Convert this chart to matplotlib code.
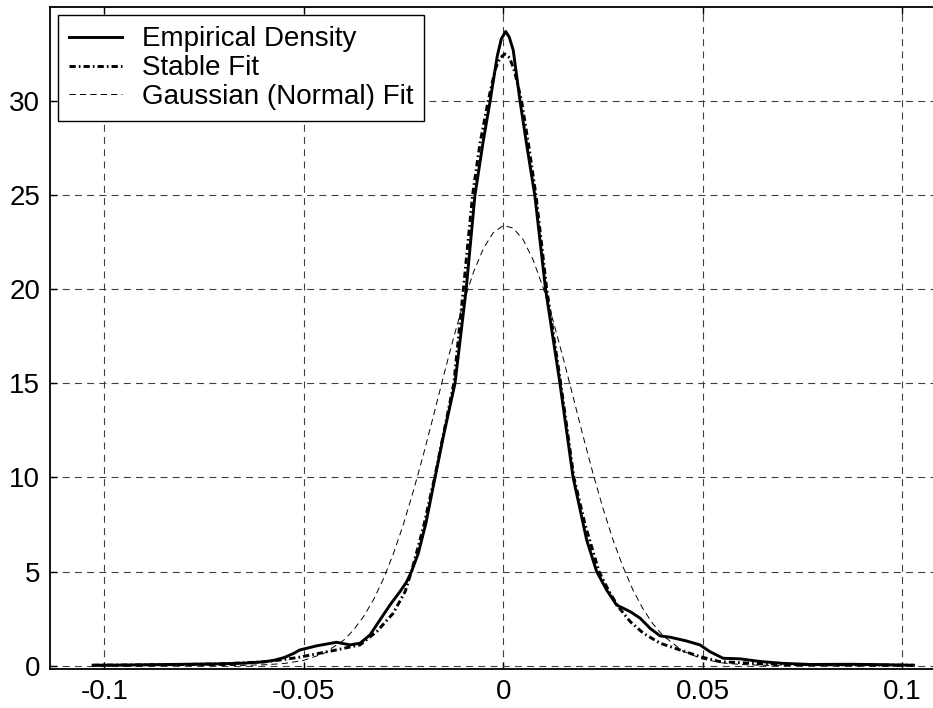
import matplotlib
matplotlib.use('Agg')
import matplotlib.pyplot as plt

# ==========================================
# Density curves
# ==========================================
# Empirical density (kernel estimate)
emp_x = [-0.1028, -0.095, -0.088, -0.08, -0.072, -0.065, -0.06, -0.0575, -0.055, -0.0525,
         -0.051, -0.0468, -0.0418, -0.0384, -0.0359, -0.0334, -0.0309, -0.0284, -0.0259, -0.0242,
         -0.023, -0.0213, -0.0194, -0.0171, -0.015, -0.0121, -0.0093, -0.0071, -0.005, -0.0033,
         -0.0015, -0.0005, 0.0006, 0.0015, 0.0025, 0.0042, 0.006, 0.0079, 0.0106, 0.0142,
         0.0175, 0.0209, 0.0234, 0.0259, 0.0284, 0.0318, 0.0343, 0.0368, 0.0393, 0.0418,
         0.0459, 0.0493, 0.0518, 0.0551, 0.0593, 0.0643, 0.07, 0.077, 0.087, 0.095, 0.1028]
emp_y = [0.02, 0.03, 0.05, 0.07, 0.09, 0.13, 0.2, 0.28, 0.42, 0.65,
         0.83, 1.05, 1.24, 1.1, 1.19, 1.63, 2.43, 3.22, 3.93, 4.46,
         5.0, 5.97, 7.56, 10.0, 12.2, 15.0, 20.0, 25.0, 27.9, 30.0,
         32.4, 33.3, 33.7, 33.4, 32.7, 30.0, 27.5, 25.0, 20.0, 15.0,
         10.0, 6.68, 5.0, 4.02, 3.22, 2.87, 2.52, 1.98, 1.58, 1.51,
         1.31, 1.1, 0.74, 0.39, 0.36, 0.22, 0.12, 0.06, 0.07, 0.05, 0.02]

# Stable fit
st_x = [-0.1028, -0.09, -0.08, -0.07, -0.06, -0.055, -0.051, -0.0426, -0.0359, -0.0317,
        -0.0276, -0.0246, -0.023, -0.02, -0.0172, -0.0124, -0.01, -0.0077, -0.0058, -0.0038,
        -0.002, -0.0008, 0.0004, 0.0016, 0.0028, 0.0046, 0.0064, 0.0082, 0.0109, 0.0144,
        0.0177, 0.0205, 0.024, 0.0265, 0.0288, 0.0318, 0.0351, 0.0393, 0.0443, 0.0493,
        0.0543, 0.0643, 0.075, 0.088, 0.1028]
st_y = [0.02, 0.04, 0.06, 0.1, 0.2, 0.32, 0.45, 0.8, 1.1, 1.81,
        2.78, 3.93, 5.0, 7.38, 10.0, 15.0, 20.0, 25.0, 27.8, 30.0,
        31.7, 32.3, 32.5, 32.3, 31.6, 30.0, 27.6, 25.0, 20.0, 15.0,
        10.0, 7.5, 5.0, 3.95, 3.13, 2.34, 1.72, 1.19, 0.83, 0.48,
        0.21, 0.1, 0.06, 0.04, 0.02]

# Gaussian (normal) fit
g_x = [-0.1025, -0.08, -0.07, -0.065, -0.06, -0.055, -0.05, -0.045, -0.04, -0.0375,
       -0.035, -0.0325, -0.03, -0.0275, -0.025, -0.0225, -0.02, -0.0175, -0.015, -0.0125,
       -0.01, -0.0075, -0.005, -0.0025, 0.0, 0.0025, 0.005, 0.0075, 0.01, 0.0125,
       0.015, 0.0175, 0.02, 0.0225, 0.025, 0.0275, 0.03, 0.0325, 0.035, 0.0375,
       0.04, 0.045, 0.05, 0.055, 0.06, 0.065, 0.07, 0.08, 0.1025]
g_y = [0.0, 0.0003, 0.004, 0.014, 0.041, 0.111, 0.279, 0.641, 1.35, 1.90,
       2.61, 3.51, 4.63, 5.97, 7.53, 9.30, 11.23, 13.27, 15.36, 17.39,
       19.27, 20.89, 22.16, 23.01, 23.39, 23.25, 22.63, 21.55, 20.08, 18.32,
       16.35, 14.28, 12.20, 10.20, 8.35, 6.69, 5.25, 4.02, 3.02, 2.22,
       1.60, 0.772, 0.343, 0.140, 0.052, 0.018, 0.006, 0.0004, 0.0]

labels = ['Empirical Density', 'Stable Fit', 'Gaussian (Normal) Fit']
xticks = [-0.1, -0.05, 0, 0.05, 0.1]
xticklabels = ['-0.1', '-0.05', '0', '0.05', '0.1']
yticks = [0, 5, 10, 15, 20, 25, 30]

plt.rcParams['font.family'] = ['Liberation Sans', 'DejaVu Sans']
plt.rcParams['lines.scale_dashes'] = False

fig = plt.figure(figsize=(9.33, 7.08), dpi=100)
ax = fig.add_axes([0.0536, 0.0551, 0.9464, 0.935])

ax.plot(emp_x, emp_y, color='black', linewidth=2.1, label=labels[0])
ax.plot(st_x, st_y, color='black', linewidth=2.1, linestyle=(0, (4.5, 2.2, 1.2, 2.2)), label=labels[1])
ax.plot(g_x, g_y, color='black', linewidth=0.7, linestyle=(0, (4.5, 3)), label=labels[2])

ax.set_xlim(-0.1136, 0.1077)
ax.set_ylim(-0.18, 35)
ax.set_xticks(xticks)
ax.set_xticklabels(xticklabels)
ax.set_yticks(yticks)
ax.set_yticklabels([str(t) for t in yticks])

# MATLAB look: dashed grid, inward ticks, boxed axes
ax.grid(True, color='#404040', linestyle=(0, (5, 3.8)), linewidth=0.8)
ax.tick_params(direction='in', length=5, width=1, labelsize=20, pad=7, top=True)
for side in ['left', 'bottom', 'top']:
    ax.spines[side].set_linewidth(1.3)
ax.spines['right'].set_visible(False)

leg = ax.legend(loc='upper left', fontsize=20, frameon=True, fancybox=False,
                edgecolor='black', framealpha=1, borderaxespad=0.3, borderpad=0.4,
                labelspacing=0.1, handlelength=1.9, handletextpad=0.7)
leg.get_frame().set_linewidth(1.0)

plt.savefig('out.png', dpi=100)
